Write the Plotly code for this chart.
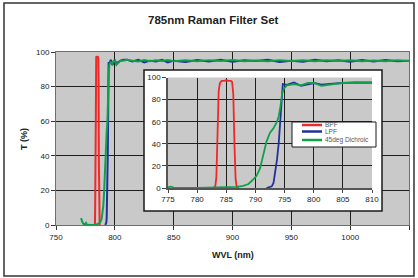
import plotly.graph_objects as go

# ---------------- data ----------------
bpf_wl = [782.7, 783.1, 783.3, 783.5, 783.7, 783.9, 784.2, 784.6, 785.0, 785.4,
          785.8, 786.0, 786.2, 786.4, 786.6, 786.8, 787.1]
bpf_t = [0, 1, 10, 60, 88, 95, 97, 97, 97.5, 97, 97, 96, 85, 40, 8, 0.5, 0]

lpf_wl = [791.9, 792.8, 793.1, 793.4, 793.7, 794.0, 794.3, 794.6, 794.7, 795.4,
          796.6, 797.8, 799.0, 800.1, 801.3, 803.0, 804.8, 807.1, 810.4,
          815, 820, 825, 830, 835, 840, 845, 850, 860, 870, 880, 890, 900, 910,
          920, 930, 940, 950, 960, 970, 980, 990, 1000, 1010, 1020, 1030, 1040, 1050]
lpf_t = [0, 1.5, 4.5, 13.5, 25.6, 40.7, 61.7, 86, 94, 93.4,
         95.5, 92.5, 94, 95, 93.5, 94.3, 95, 95.5, 95.5,
         94.5, 95.5, 94, 95, 94.5, 95.5, 94, 95, 94.2, 95.3, 94.5, 95.5, 94.3, 95.2,
         94.8, 95.5, 94.2, 95, 94.4, 95.5, 94.6, 95.2, 94.3, 95.4, 94.5, 95.3, 94.6, 95]

dic_wl = [771.3, 771.8, 772.5, 773.5, 774.5, 775.0, 775.5, 776.0, 777.0, 780.0,
          783.9, 786.8, 787.9, 788.8, 789.6, 790.2, 790.8, 791.4, 791.9, 792.5,
          793.1, 793.7, 794.0, 794.3, 794.6, 794.9, 795.4, 796.6, 797.8, 799.0,
          800.1, 801.3, 802.4, 804.8, 807.1, 810.4,
          815, 820, 825, 830, 835, 840, 845, 850, 860, 870, 880, 890, 900, 910,
          920, 930, 940, 950, 960, 970, 980, 990, 1000, 1010, 1020, 1030, 1040, 1050]
dic_t = [4, 2.8, 1.5, 0.5, 0.2, 0.8, 1.2, 0.4, 0.1, 0,
         0.2, 1, 2, 3.6, 7.5, 11, 18, 30, 42, 50,
         54, 60, 65, 74, 86, 90, 93, 94, 93, 95,
         95, 92.5, 93.4, 95, 95, 95.5,
         95, 94.5, 95.3, 94.6, 95.2, 94.8, 95.4, 94.7, 95.2, 94.6, 95.3, 94.8, 95.4, 94.7,
         95.1, 94.6, 95.3, 94.8, 95.2, 94.7, 95.3, 94.8, 95.2, 94.6, 95.1, 94.7, 95.2, 94.8]

series_names = ["BPF", "LPF", "45deg Dichroic"]
series_colors = ["#f02828", "#22309e", "#10a04a"]

main_xticks = [750, 800, 850, 900, 950, 1000, 1050]
main_yticks = [0, 20, 40, 60, 80, 100]
inset_xticks = [775, 780, 785, 790, 795, 800, 805, 810]
inset_yticks = [0, 20, 40, 60, 80, 100]

title_text = "785nm Raman Filter Set"
x_title = "WVL (nm)"
y_title = "T (%)"

# ---------------- layout helpers ----------------
W, H = 418, 278
L, R, T, B = 56, 409, 52, 225
PW, PH = R - L, B - T


def X(px):
    return (px - L) / PW


def Y(py):
    return (B - py) / PH


FONT = "Liberation Sans, Arial, sans-serif"

fig = go.Figure()

data = [(bpf_wl, bpf_t), (lpf_wl, lpf_t), (dic_wl, dic_t)]

# main chart traces
for (wl, t), name, col in zip(data, series_names, series_colors):
    fig.add_trace(go.Scatter(x=wl, y=t, mode="lines", name=name,
                             line=dict(color=col, width=2),
                             xaxis="x", yaxis="y", showlegend=False,
                             hoverinfo="skip"))

# white box behind the inset
fig.add_trace(go.Scatter(x=[-1, 2, 2, -1, -1], y=[-1, -1, 2, 2, -1],
                         fill="toself", fillcolor="white", mode="lines",
                         line=dict(width=0, color="white"),
                         xaxis="x2", yaxis="y2", showlegend=False,
                         hoverinfo="skip"))

# inset traces
for (wl, t), name, col in zip(data, series_names, series_colors):
    fig.add_trace(go.Scatter(x=wl, y=t, mode="lines", name=name,
                             line=dict(color=col, width=1.8),
                             xaxis="x3", yaxis="y3", showlegend=False,
                             hoverinfo="skip"))

tickfont = dict(family=FONT, size=8, color="#222")

fig.update_layout(
    width=W, height=H,
    margin=dict(l=L, r=W - R, t=T, b=H - B, autoexpand=False),
    paper_bgcolor="white",
    plot_bgcolor="#c9c9c9",
    showlegend=False,
    xaxis=dict(domain=[0, 1], range=[750, 1050], tickvals=main_xticks,
               showgrid=True, gridcolor="#1e1e1e", gridwidth=1,
               showline=True, mirror=True, linecolor="#6e6e6e", linewidth=1,
               ticks="outside", ticklen=4, tickcolor="#333",
               tickfont=tickfont, zeroline=False, fixedrange=True),
    yaxis=dict(domain=[0, 1], range=[0, 100], tickvals=main_yticks,
               showgrid=True, gridcolor="#1e1e1e", gridwidth=1,
               showline=True, mirror=True, linecolor="#6e6e6e", linewidth=1,
               ticks="outside", ticklen=4, tickcolor="#333",
               tickfont=tickfont, zeroline=False, fixedrange=True),
    xaxis2=dict(domain=[X(144), X(382)], range=[0, 1], visible=False,
                anchor="y2", fixedrange=True),
    yaxis2=dict(domain=[Y(211), Y(70)], range=[0, 1], visible=False,
                anchor="x2", fixedrange=True),
    xaxis3=dict(domain=[X(168), X(372)], range=[775, 810], tickvals=inset_xticks,
                anchor="y3", showgrid=True, gridcolor="#1e1e1e", gridwidth=1,
                showline=True, linecolor="#555", linewidth=1.5,
                ticks="outside", ticklen=3, tickcolor="#444",
                tickfont=tickfont, zeroline=False, fixedrange=True),
    yaxis3=dict(domain=[Y(188), Y(77.5)], range=[0, 100], tickvals=inset_yticks,
                anchor="x3", showgrid=True, gridcolor="#1e1e1e", gridwidth=1,
                showline=True, linecolor="#555", linewidth=1.5,
                ticks="outside", ticklen=4, tickcolor="#444",
                tickfont=tickfont, zeroline=False, fixedrange=True),
)

shapes = []
# outer frame
shapes.append(dict(type="rect", xref="paper", yref="paper",
                   x0=X(4), x1=X(414), y0=Y(276), y1=Y(3),
                   line=dict(color="#333", width=1.5), layer="below"))
# inset frame
shapes.append(dict(type="rect", xref="paper", yref="paper",
                   x0=X(144), x1=X(382), y0=Y(211), y1=Y(70),
                   line=dict(color="#1a1a1a", width=1.5), layer="above"))
# legend box
shapes.append(dict(type="rect", xref="paper", yref="paper",
                   x0=X(292), x1=X(376), y0=Y(147), y1=Y(122),
                   fillcolor="white", line=dict(color="#1a1a1a", width=1),
                   layer="above"))
annotations = []
leg_rows = [125, 131.5, 140]
for name, col, ry in zip(series_names, series_colors, leg_rows):
    shapes.append(dict(type="line", xref="paper", yref="paper",
                       x0=X(302), x1=X(322), y0=Y(ry), y1=Y(ry),
                       line=dict(color=col, width=2.5), layer="above"))
    annotations.append(dict(xref="paper", yref="paper", x=X(322.5), y=Y(ry),
                            text=name, showarrow=False, xanchor="left",
                            yanchor="middle",
                            font=dict(family=FONT, size=6.5, color="#555")))

annotations.append(dict(xref="paper", yref="paper", x=X(213), y=Y(20),
                        text="<b>" + title_text + "</b>", showarrow=False,
                        xanchor="center", yanchor="middle",
                        font=dict(family=FONT, size=11.5, color="#222")))
annotations.append(dict(xref="paper", yref="paper", x=X(232.5), y=Y(255),
                        text="<b>" + x_title + "</b>", showarrow=False,
                        xanchor="center", yanchor="middle",
                        font=dict(family=FONT, size=9, color="#222")))
annotations.append(dict(xref="paper", yref="paper", x=X(24), y=Y(139),
                        text="<b>" + y_title + "</b>", showarrow=False,
                        textangle=-90, xanchor="center", yanchor="middle",
                        font=dict(family=FONT, size=9, color="#222")))

fig.update_layout(shapes=shapes, annotations=annotations)

fig.write_html("out.html",
               config={"displayModeBar": False},
               post_script="document.body.style.margin='0px';"
                           "document.body.style.overflow='hidden';")
